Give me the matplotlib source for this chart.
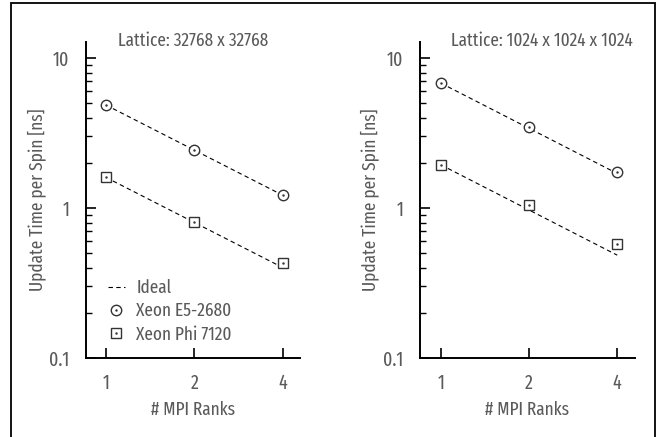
import matplotlib
matplotlib.use("Agg")
import matplotlib.pyplot as plt
from matplotlib.patches import Rectangle
from matplotlib.ticker import FixedLocator, NullFormatter, LogLocator
from matplotlib.legend_handler import HandlerTuple

plt.rcParams['font.family'] = ['Fira Sans Extra Condensed', 'Fira Sans Condensed',
                               'Roboto Condensed', 'DejaVu Sans']

ranks = [1, 2, 4]
rank_labels = ["1", "2", "4"]

# 2D lattice 32768 x 32768
e5_2d = [4.86, 2.44, 1.22]
phi_2d = [1.6, 0.81, 0.43]
ideal_e5_2d = [4.86, 2.43, 1.215]
ideal_phi_2d = [1.6, 0.8, 0.4]

# 3D lattice 1024^3
e5_3d = [6.8, 3.47, 1.74]
phi_3d = [1.94, 1.05, 0.575]
ideal_e5_3d = [6.8, 3.4, 1.7]
ideal_phi_3d = [1.94, 0.97, 0.485]

titles = ["Lattice: 32768 x 32768", "Lattice: 1024 x 1024 x 1024"]
ylabel = "Update Time per Spin [ns]"
xlabel = "# MPI Ranks"

txt = "#5a5a5a"
mk = "#333333"
W, H = 659, 437

fig = plt.figure(figsize=(6.59, 4.37), dpi=100)
fig.patches.append(Rectangle((11/W, -0.01), 644/W, 1 - 3/H + 0.01,
                             transform=fig.transFigure, fill=False,
                             edgecolor="black", linewidth=1.3))

boxes = [[86/W, 1-358/H, 214/W, 316/H],
         [420/W, 1-358/H, 215/W, 316/H]]
panels = [(e5_2d, phi_2d, ideal_e5_2d, ideal_phi_2d, (0.855, 4.57)),
          (e5_3d, phi_3d, ideal_e5_3d, ideal_phi_3d, (0.848, 4.6))]
title_x = [193, 542]
ylab_x = [37, 370]
xlab_x = [193, 527]

for i, (box, (e5, phi, ie5, iphi, xl)) in enumerate(zip(boxes, panels)):
    ax = fig.add_axes(box)
    ax.set_xscale("log", base=2)
    ax.set_yscale("log")
    ax.set_xlim(*xl)
    ax.set_ylim(0.1, 12.8)
    l_ideal, = ax.plot(ranks, ie5, ls=(0, (4, 3)), color="black", lw=0.8, zorder=1)
    ax.plot(ranks, iphi, ls=(0, (4, 3)), color="black", lw=0.8, zorder=1)
    c, = ax.plot(ranks, e5, ls="none", marker="o", ms=7.5, mfc="white",
                 mec=mk, mew=1.0, zorder=3)
    s, = ax.plot(ranks, phi, ls="none", marker="s", ms=7.5, mfc="white",
                 mec=mk, mew=1.0, zorder=3)
    d1, = ax.plot(ranks, e5, ls="none", marker=".", ms=1.5, color=mk, zorder=4)
    d2, = ax.plot(ranks, phi, ls="none", marker=".", ms=1.5, color=mk, zorder=4)

    for sp in ["top", "right"]:
        ax.spines[sp].set_visible(False)
    for sp in ["left", "bottom"]:
        ax.spines[sp].set_linewidth(1.4)
    ax.xaxis.set_major_locator(FixedLocator(ranks))
    ax.set_xticklabels(rank_labels)
    ax.xaxis.set_minor_locator(FixedLocator([]))
    ax.yaxis.set_major_locator(FixedLocator([0.1, 1, 10]))
    ax.set_yticklabels(["0.1", "1", "10"])
    ax.yaxis.set_minor_locator(LogLocator(base=10, subs=range(2, 10)))
    ax.yaxis.set_minor_formatter(NullFormatter())
    ax.tick_params(which="major", direction="in", length=7, width=1.2,
                   labelsize=14, labelcolor=txt)
    ax.tick_params(axis="y", which="major", pad=12)
    ax.tick_params(axis="x", which="major", pad=11)
    ax.tick_params(which="minor", direction="in", length=4, width=1.0)

    fig.text(title_x[i]/W, 1-46/H, titles[i], fontsize=13.5, color=txt,
             ha="center", va="baseline")
    fig.text(ylab_x[i]/W, 1-200/H, ylabel, fontsize=13.5, color=txt,
             ha="center", va="center", rotation=90)
    fig.text(xlab_x[i]/W, 1-415/H, xlabel, fontsize=13.5, color=txt,
             ha="center", va="baseline")

    if i == 0:
        leg = ax.legend([l_ideal, (c, d1), (s, d2)],
                        ["Ideal", "Xeon E5-2680", "Xeon Phi 7120"],
                        handler_map={tuple: HandlerTuple(ndivide=1)},
                        loc="upper left", bbox_to_anchor=(22/214, (358-279)/316),
                        frameon=False, fontsize=13.5, handlelength=0.9,
                        handletextpad=0.6, labelspacing=0.3,
                        borderaxespad=0, borderpad=0)
        for t in leg.get_texts():
            t.set_color(txt)

fig.savefig("out.png", dpi=100)
